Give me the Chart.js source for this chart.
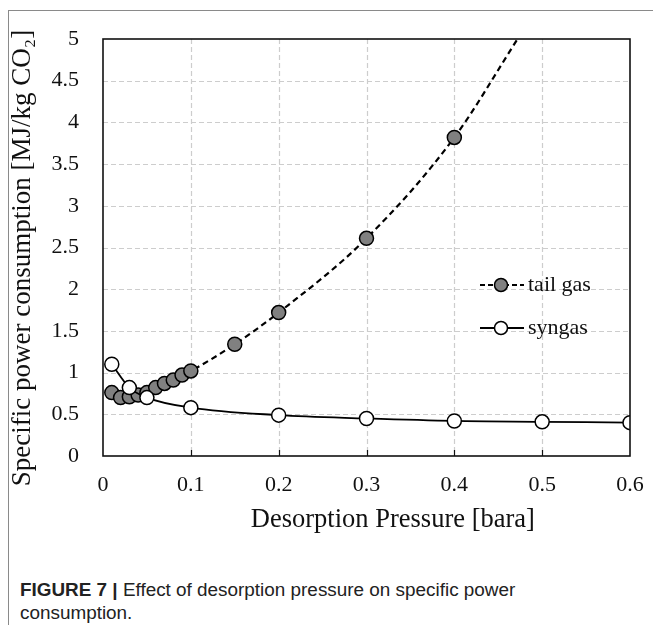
<!DOCTYPE html>
<html>
<head>
<meta charset="utf-8">
<script src="https://cdn.jsdelivr.net/npm/chart.js@4"></script>
<style>
  body { margin: 0; background: #fff; width: 653px; height: 625px; overflow: hidden; position: relative; }
  #frame { position: absolute; left: 8px; top: 10px; width: 660px; height: 640px; border-left: 1.5px solid #8a8a8a; border-top: 1.5px solid #8a8a8a; }
  #wrap { position: absolute; left: 0; top: 0; width: 653px; height: 560px; }
  #caption { position: absolute; left: 20px; top: 578px; width: 630px; font-family: "Liberation Sans", Arial, sans-serif; font-size: 18.9px; line-height: 23px; color: #222; }
  #caption b { font-weight: bold; }
</style>
</head>
<body>
<div id="frame"></div>
<div id="wrap"><canvas id="chart_power"></canvas></div>
<div id="caption"><b>FIGURE 7 |</b> Effect of desorption pressure on specific power<br>consumption.</div>
<script>
// desorption pressure [bara] and specific power [MJ/kg CO2]
var tailGasX = [0.01, 0.02, 0.03, 0.04, 0.05, 0.06, 0.07, 0.08, 0.09, 0.1, 0.15, 0.2, 0.3, 0.4, 0.472];
var tailGasY = [0.76, 0.70, 0.71, 0.73, 0.76, 0.82, 0.87, 0.91, 0.97, 1.02, 1.34, 1.72, 2.61, 3.82, 5.0];
var tailGasMarked = [1, 1, 1, 1, 1, 1, 1, 1, 1, 1, 1, 1, 1, 1, 0];   // last point is where the fit line leaves the frame

var syngasX = [0.01, 0.03, 0.05, 0.1, 0.2, 0.3, 0.4, 0.5, 0.6];
var syngasY = [1.10, 0.82, 0.70, 0.58, 0.49, 0.45, 0.42, 0.41, 0.40];

var xTicks = [0, 0.1, 0.2, 0.3, 0.4, 0.5, 0.6];
var yTicks = [0, 0.5, 1, 1.5, 2, 2.5, 3, 3.5, 4, 4.5, 5];

var seriesNames = ['tail gas', 'syngas'];
var xTitle = 'Desorption Pressure [bara]';
var yTitle = 'Specific power consumption [MJ/kg CO\u2082]';

function toPoints(xs, ys) {
    return xs.map(function (x, i) { return { x: x, y: ys[i] }; });
}

var serif = '"Liberation Serif", "Times New Roman", serif';

var chart_power = new Chart(document.getElementById('chart_power'), {
    type: 'scatter',
    data: {
        datasets: [
            {
                label: seriesNames[1],
                data: toPoints(syngasX, syngasY),
                showLine: true,
                borderColor: '#000',
                borderWidth: 1.8,
                cubicInterpolationMode: 'monotone',
                pointRadius: 7,
                pointBackgroundColor: '#fff',
                pointBorderColor: '#000',
                pointBorderWidth: 1.5,
                order: 1
            },
            {
                label: seriesNames[0],
                data: toPoints(tailGasX, tailGasY),
                showLine: true,
                borderColor: '#000',
                borderWidth: 2.2,
                borderDash: [6, 4],
                cubicInterpolationMode: 'monotone',
                pointRadius: tailGasMarked.map(function (m) { return m ? 7 : 0; }),
                pointBackgroundColor: '#808080',
                pointBorderColor: '#000',
                pointBorderWidth: 1.5,
                order: 2
            }
        ]
    },
    options: {
        animation: false,
        responsive: true,
        maintainAspectRatio: false,
        layout: { padding: { left: 0, right: 23, top: 39, bottom: 4 } },
        plugins: {
            legend: { display: false },
            tooltip: { enabled: false }
        },
        scales: {
            x: {
                type: 'linear',
                min: 0,
                max: 0.6,
                afterBuildTicks: function (scale) { scale.ticks = xTicks.map(function (v) { return { value: v }; }); },
                afterFit: function (scale) { scale.height = 100; },
                grid: { display: false },
                border: { display: false },
                ticks: { color: '#111', font: { family: serif, size: 22 }, padding: 8, maxRotation: 0,
                         callback: function (v) { return String(v); } }
            },
            y: {
                type: 'linear',
                min: 0,
                max: 5,
                afterBuildTicks: function (scale) { scale.ticks = yTicks.map(function (v) { return { value: v }; }); },
                afterFit: function (scale) { scale.width = 103; },
                grid: { display: false },
                border: { display: false },
                ticks: { color: '#111', font: { family: serif, size: 22 }, padding: 16,
                         callback: function (v) { return String(v); } }
            }
        }
    },
    plugins: [{
        id: 'dashGrid',
        beforeDatasetsDraw: function (chart) {
            var ctx = chart.ctx;
            var a = chart.chartArea;
            var xs = chart.scales.x, ys = chart.scales.y;
            ctx.save();
            ctx.strokeStyle = '#cdcdcd';
            ctx.lineWidth = 1.2;
            ctx.setLineDash([5, 3]);
            xTicks.slice(1, -1).forEach(function (v) {
                var px = Math.round(xs.getPixelForValue(v)) + 0.5;
                ctx.beginPath();
                ctx.moveTo(px, a.top);
                ctx.lineTo(px, a.bottom);
                ctx.stroke();
            });
            yTicks.slice(1, -1).forEach(function (v) {
                var py = Math.round(ys.getPixelForValue(v)) + 0.5;
                ctx.beginPath();
                ctx.moveTo(a.left, py);
                ctx.lineTo(a.right, py);
                ctx.stroke();
            });
            ctx.restore();
        }
    }, {
        id: 'frameAndLegend',
        afterDraw: function (chart) {
            var ctx = chart.ctx;
            var a = chart.chartArea;
            ctx.save();
            // plot frame
            ctx.strokeStyle = '#111';
            ctx.lineWidth = 1.6;
            ctx.strokeRect(a.left, a.top, a.right - a.left, a.bottom - a.top);
            // small inner ticks on the bottom axis
            var xs = chart.scales.x;
            ctx.lineWidth = 1.2;
            xTicks.slice(1, -1).forEach(function (v) {
                var px = Math.round(xs.getPixelForValue(v)) + 0.5;
                ctx.beginPath();
                ctx.moveTo(px, a.bottom);
                ctx.lineTo(px, a.bottom - 6);
                ctx.stroke();
            });
            // axis titles (the original sits a little off-centre)
            ctx.fillStyle = '#111';
            ctx.textAlign = 'center';
            ctx.textBaseline = 'middle';
            ctx.font = '26.5px ' + serif;
            ctx.fillText(xTitle, a.left + (a.right - a.left) * 0.55, 520);
            ctx.save();
            ctx.translate(23, 258);
            ctx.rotate(-Math.PI / 2);
            ctx.font = '27px ' + serif;
            ctx.fillText(yTitle, 0, 0);
            ctx.restore();
            // legend inside the plot
            var items = [
                { name: seriesNames[0], dash: [5, 3], fill: '#808080', y: 285, lw: 2.0 },
                { name: seriesNames[1], dash: [], fill: '#fff', y: 328, lw: 1.8 }
            ];
            items.forEach(function (it) {
                ctx.strokeStyle = '#000';
                ctx.lineWidth = it.lw;
                ctx.setLineDash(it.dash);
                ctx.beginPath();
                ctx.moveTo(480, it.y);
                ctx.lineTo(524, it.y);
                ctx.stroke();
                ctx.setLineDash([]);
                ctx.beginPath();
                ctx.arc(501, it.y, 6.5, 0, Math.PI * 2);
                ctx.fillStyle = it.fill;
                ctx.fill();
                ctx.lineWidth = 1.5;
                ctx.stroke();
                ctx.fillStyle = '#111';
                ctx.font = '22px ' + serif;
                ctx.textBaseline = 'middle';
                ctx.textAlign = 'left';
                ctx.fillText(it.name, 528, it.y);
            });
            ctx.restore();
        }
    }]
});
</script>
</body>
</html>
